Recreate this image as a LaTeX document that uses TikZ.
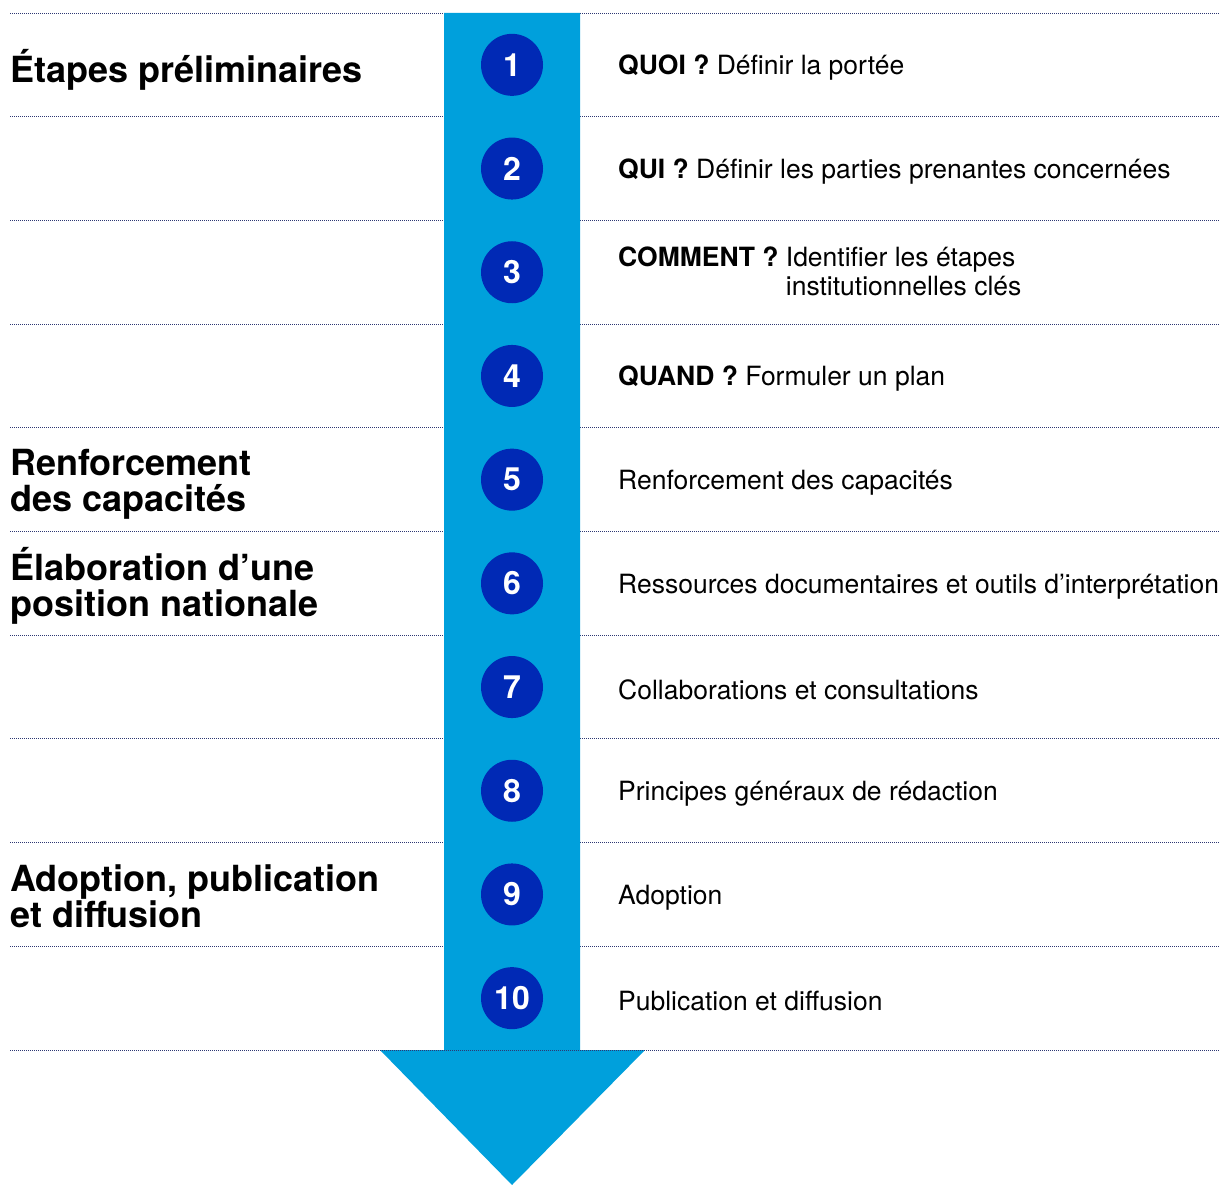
\documentclass[tikz,border=0pt]{standalone}
\usepackage{fontspec}
\setmainfont{TeX Gyre Heros}
\usetikzlibrary{positioning}
\definecolor{sblue}{RGB}{0,160,220}
\definecolor{dblue}{RGB}{0,41,181}
\definecolor{rulecol}{RGB}{45,55,115}

\begin{document}
\begin{tikzpicture}[x=1pt, y=-1pt,
    stepnum/.style={circle, fill=dblue, minimum size=62pt, inner sep=0pt, text=white, font=\fontsize{32}{32}\selectfont\bfseries},
    phase/.style={anchor=west, align=left, inner sep=0pt, yshift=-5pt, font=\fontsize{36}{36}\selectfont\bfseries},
    task/.style={align=left, inner sep=0pt, yshift=-3pt, font=\fontsize{26.5}{29}\selectfont},
    sep/.style={draw=rulecol, line width=0.9pt, dash pattern=on 1pt off 1pt}
]
    \useasboundingbox (0,0) rectangle (1224,1185);

    % Row separators
    \foreach \i in {0,...,9} {
        \draw[sep] (10, {13+103.7*\i}) -- (1220, {13+103.7*\i});
    }

    % Arrow
    \fill[sblue] (444,13) -- (580,13) -- (580,1050) -- (645,1050) -- (512,1185) -- (380,1050) -- (444,1050) -- cycle;
    \draw[sep] (10,1050) -- (1220,1050);

    % Steps
    \foreach \i in {1,...,10} {
        \node[stepnum] (n\i) at (512, {13+103.7*(\i-0.5)}) {\i};
    }

    % Tasks
    \node[task, right=106pt of n1.center] (t1) {\textbf{QUOI ?} Définir la portée};
    \node[task, right=106pt of n2.center] (t2) {\textbf{QUI ?} Définir les parties prenantes concernées};
    \node[task, right=106pt of n3.center] (t3) {\textbf{COMMENT ?} \begin{tabular}[t]{@{}l@{}}Identifier les étapes\\institutionnelles clés\end{tabular}};
    \node[task, right=106pt of n4.center] (t4) {\textbf{QUAND ?} Formuler un plan};
    \foreach \i/\label in {5/Renforcement des capacités, 6/Ressources documentaires et outils d’interprétation, 7/Collaborations et consultations, 8/Principes généraux de rédaction, 9/Adoption, 10/Publication et diffusion} {
        \node[task, right=106pt of n\i.center] (t\i) {\label};
    }

    % Phases
    \coordinate (lft) at (10,0);
    \node[phase] (p1) at (lft |- n1) {Étapes préliminaires};
    \node[phase] (p5) at (lft |- n5) {Renforcement\\des capacités};
    \node[phase, yshift=3pt] (p6) at (lft |- n6) {Élaboration d’une\\position nationale};
    \node[phase, yshift=3pt] (p9) at (lft |- n9) {Adoption, publication\\et diffusion};
\end{tikzpicture}
\end{document}
